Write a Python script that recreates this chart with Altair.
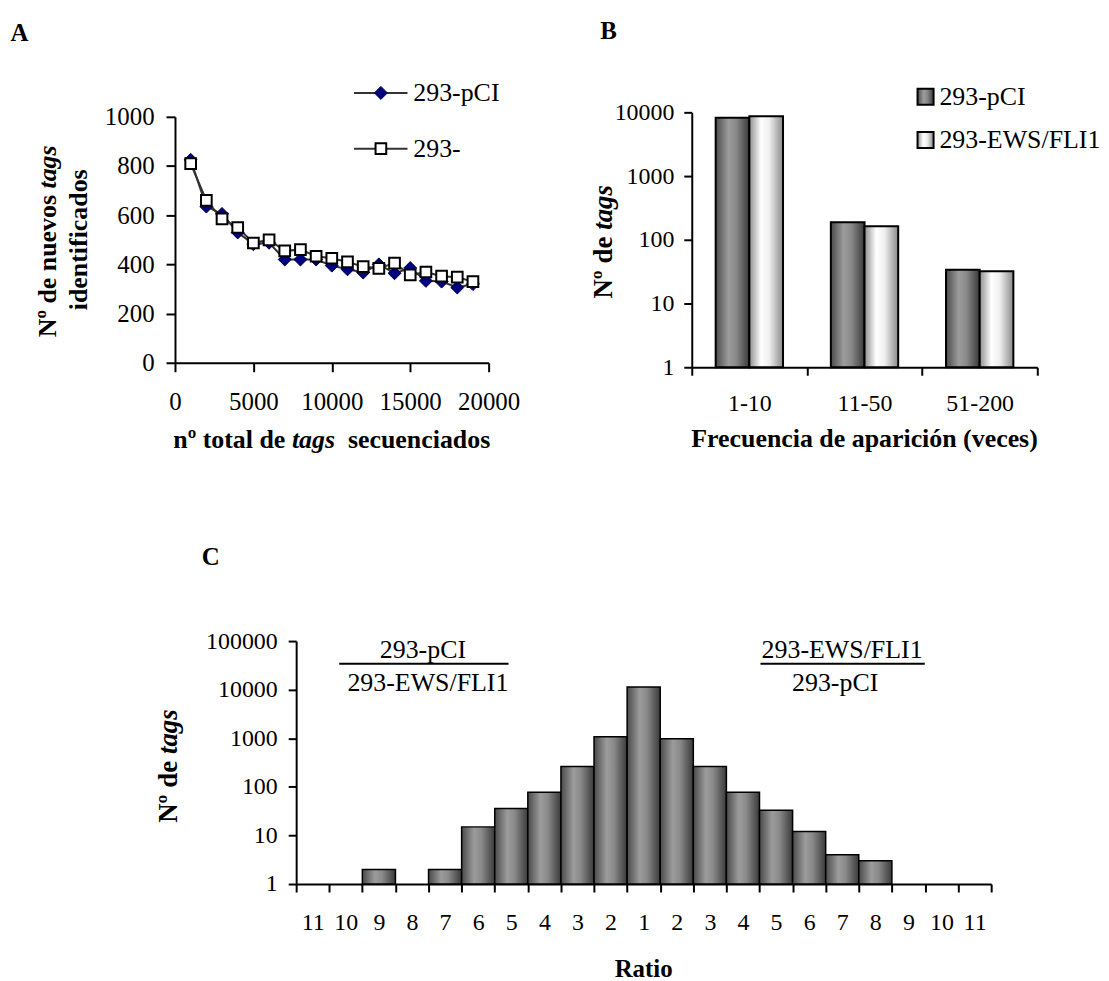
import altair as alt
import pandas as pd

FONT = "Liberation Serif"

# ---------------- Panel A data ----------------
tags_total = [1000, 2000, 3000, 4000, 5000, 6000, 7000, 8000, 9000, 10000,
              11000, 12000, 13000, 14000, 15000, 16000, 17000, 18000, 19000]
nuevos_pci = [825, 635, 605, 530, 482, 488, 420, 420, 420, 395,
              380, 367, 400, 364, 385, 333, 330, 306, 320]
nuevos_ews = [810, 660, 585, 550, 487, 500, 455, 460, 433, 425,
              410, 391, 384, 405, 357, 369, 352, 348, 330]
series_a = ["293-pCI", "293-"]
x_ticks_a = [0, 5000, 10000, 15000, 20000]
y_ticks_a = [0, 200, 400, 600, 800, 1000]

# ---------------- Panel B data ----------------
freq_cats = ["1-10", "11-50", "51-200"]
freq_pci = [8200, 188, 34]
freq_ews = [8700, 163, 32]
series_b = ["293-pCI", "293-EWS/FLI1"]
y_ticks_b = [1, 10, 100, 1000, 10000]

# ---------------- Panel C data ----------------
ratio_labels = ["11", "10", "9", "8", "7", "6", "5", "4", "3", "2", "1",
                "2", "3", "4", "5", "6", "7", "8", "9", "10", "11"]
ratio_counts = [None, None, 2, None, 2, 15, 36, 77, 262, 1078, 11400,
                981, 262, 77, 33, 12, 4, 3, None, None, None]
y_ticks_c = [1, 10, 100, 1000, 10000, 100000]

ratio_codes = [("L" if i < 10 else ("C" if i == 10 else "R")) + lab
               for i, lab in enumerate(ratio_labels)]

# ---------------- helpers ----------------
def ax(**kw):
    base = dict(title=None, grid=False, domainColor="black", domainWidth=2,
                tickColor="black", tickWidth=2, labelColor="black",
                labelFont=FONT, labelFlush=False, labelOverlap=False)
    base.update(kw)
    return alt.Axis(**base)


def txt(s, x, y, size=26, bold=False, italic=False, align="left",
        baseline="alphabetic", angle=None):
    kw = dict(font=FONT, fontSize=size, align=align, baseline=baseline,
              color="black")
    if bold:
        kw["fontWeight"] = "bold"
    if italic:
        kw["fontStyle"] = "italic"
    if angle is not None:
        kw["angle"] = angle
    return alt.Chart(pd.DataFrame({"t": [s]})).mark_text(**kw).encode(
        text="t:N", x=alt.value(x), y=alt.value(y))


def one(s):
    return alt.Chart(pd.DataFrame({"t": [s]}))


def grad(stops):
    return alt.Gradient(gradient="linear", x1=0, x2=1, y1=0, y2=0,
                        stops=[alt.GradientStop(color=c, offset=o) for o, c in stops])


dark_grad = grad([(0, "#4a4a4a"), (0.38, "#9c9c9c"), (0.6, "#8a8a8a"), (1, "#3a3a3a")])
light_grad = grad([(0, "#8e8e8e"), (0.35, "#ffffff"), (0.6, "#eeeeee"), (1, "#8a8a8a")])

# ---------------- Panel A ----------------
dfA = pd.DataFrame({
    "total": tags_total * 2,
    "nuevos": nuevos_pci + nuevos_ews,
    "series": [series_a[0]] * len(tags_total) + [series_a[1]] * len(tags_total),
})

xA = alt.X("total:Q", scale=alt.Scale(domain=[0, 20000], nice=False),
           axis=ax(values=x_ticks_a, format="d", tickSize=9, labelPadding=18,
                   labelFontSize=25))
yA = alt.Y("nuevos:Q", scale=alt.Scale(domain=[0, 1000], nice=False),
           axis=ax(values=y_ticks_a, format="d", tickSize=9, labelPadding=12,
                   labelFontSize=25))

lineA = alt.Chart(dfA).mark_line(color="#333333", strokeWidth=2).encode(
    x=xA, y=yA, detail="series:N")
diamA = alt.Chart(dfA).transform_filter(alt.datum.series == series_a[0]).mark_point(
    shape="diamond", filled=True, fill="#000080", stroke="#000033", strokeWidth=1,
    size=170, opacity=1).encode(x=xA, y=yA)
sqA = alt.Chart(dfA).transform_filter(alt.datum.series == series_a[1]).mark_point(
    shape="square", filled=True, fill="white", stroke="black", strokeWidth=2,
    size=115, opacity=1).encode(x=xA, y=yA)

legA = []
for i, (s, y) in enumerate(zip(series_a, [-24, 32])):
    legA.append(one(s).mark_rule(color="#333333", strokeWidth=2).encode(
        x=alt.value(179.8), x2=alt.value(233.5), y=alt.value(y)))
    if i == 0:
        legA.append(one(s).mark_point(shape="diamond", filled=True, fill="#000080",
                                      stroke="#000033", strokeWidth=1, size=170,
                                      opacity=1).encode(x=alt.value(206.8), y=alt.value(y)))
    else:
        legA.append(one(s).mark_point(shape="square", filled=True, fill="white",
                                      stroke="black", strokeWidth=2, size=115,
                                      opacity=1).encode(x=alt.value(206.8), y=alt.value(y)))
    legA.append(txt(s, 239.3, y, size=26, baseline="middle"))

titlesA = [
    txt("A", -165.3, -76.3, size=25, bold=True),
    txt("Nº de nuevos", -119.6, 221.4, size=26, bold=True, angle=270),
    txt("tags", -119.6, 72.0, size=26, bold=True, italic=True, angle=270),
    txt("identificados", -88.5, 123.5, size=26, bold=True, align="center", angle=270),
    txt("nº total de", -1.7, 333, size=26, bold=True),
    txt("tags", 117.4, 333, size=26, bold=True, italic=True),
    txt("secuenciados", 173.7, 333, size=26, bold=True),
]

panelA = alt.layer(lineA, diamA, sqA, *legA, *titlesA).properties(width=315, height=247)

# ---------------- Panel B ----------------
dfB = pd.DataFrame({
    "cat": freq_cats * 2,
    "value": freq_pci + freq_ews,
    "series": [series_b[0]] * 3 + [series_b[1]] * 3,
})
xB = alt.X("cat:N", sort=freq_cats,
           scale=alt.Scale(domain=freq_cats, paddingInner=0, paddingOuter=0),
           axis=ax(tickBand="extent", labelAngle=0, tickSize=8, labelPadding=16,
                   labelFontSize=24))
xoB = alt.XOffset("series:N", sort=series_b,
                  scale=alt.Scale(domain=series_b, paddingInner=0, paddingOuter=0.71))
yB = alt.Y("value:Q", scale=alt.Scale(type="log", domain=[1, 10000], nice=False),
           axis=ax(values=y_ticks_b, format="d", tickSize=8, labelPadding=10,
                   labelFontSize=24))

barsB = []
for s, g in zip(series_b, [dark_grad, light_grad]):
    barsB.append(alt.Chart(dfB).transform_filter(alt.datum.series == s).mark_bar(
        fill=g, stroke="black", strokeWidth=2).encode(
        x=xB, xOffset=xoB, y=yB, y2=alt.datum(1)))

legB = []
for s, g, y in zip(series_b, [dark_grad, light_grad], [-15.7, 27.7]):
    legB.append(one(s).mark_point(shape="square", filled=True, fill=g, stroke="black",
                                  strokeWidth=2, size=260, opacity=1).encode(
        x=alt.value(234.8), y=alt.value(y)))
    legB.append(txt(s, 248.7, y, size=26, baseline="middle"))

titlesB = [
    txt("B", -92, -73.3, size=25, bold=True),
    txt("Nº de", -80, 187.0, size=27, bold=True, angle=270),
    txt("tags", -80, 118.0, size=27, bold=True, italic=True, angle=270),
    txt("Frecuencia de aparición (veces)", 173.5, 336, size=26, bold=True, align="center"),
]

panelB = alt.layer(*barsB, *legB, *titlesB).properties(width=347, height=256)

# ---------------- Panel C ----------------
dfC = pd.DataFrame({"code": ratio_codes, "count": ratio_counts}).dropna()
xC = alt.X("code:N", sort=ratio_codes,
           scale=alt.Scale(domain=ratio_codes, paddingInner=0, paddingOuter=0),
           axis=ax(tickBand="extent", labelExpr="substring(datum.label, 1)",
                   labelAngle=0, tickSize=8, labelPadding=19, labelFontSize=24))
yC = alt.Y("count:Q", scale=alt.Scale(type="log", domain=[1, 100000], nice=False),
           axis=ax(values=y_ticks_c, format="d", tickSize=8, labelPadding=11,
                   labelFontSize=24))
barsC = alt.Chart(dfC).mark_bar(fill=dark_grad, stroke="black", strokeWidth=1.5).encode(
    x=xC, y=yC, y2=alt.datum(1))

annC = [
    one("l").mark_rule(color="black", strokeWidth=2).encode(
        x=alt.value(43.3), x2=alt.value(213.3), y=alt.value(22.7)),
    one("r").mark_rule(color="black", strokeWidth=2).encode(
        x=alt.value(466.3), x2=alt.value(631.3), y=alt.value(22.7)),
    txt(series_b[0], 127.3, 17, size=26, align="center"),
    txt(series_b[1], 132.3, 50, size=26, align="center"),
    txt(series_b[1], 548.3, 17, size=26, align="center"),
    txt(series_b[0], 541.3, 50, size=26, align="center"),
    txt("C", -94.7, -76, size=25, bold=True),
    txt("Nº de", -119.4, 182.5, size=27, bold=True, angle=270),
    txt("tags", -119.4, 113.5, size=27, bold=True, italic=True, angle=270),
    txt("Ratio", 349, 337, size=25, bold=True, align="center"),
]

panelC = alt.layer(barsC, *annC).properties(width=698, height=244)

spacer = alt.Chart(pd.DataFrame({"v": [0]})).mark_point(opacity=0).encode(
    x=alt.X("v:Q", axis=None), y=alt.Y("v:Q", axis=None)).properties(width=1, height=1)

top = alt.hconcat(panelA, panelB, spacing=204, bounds="flush", center=True)
bottom = alt.hconcat(spacer, panelC, spacing=120.7, bounds="flush")
# nested concat rows count as zero height under flush bounds, so the spacing
# includes the top row's plot height (256)
chart = alt.vconcat(top, bottom, spacing=531, bounds="flush").properties(
    padding={"left": 1.7, "top": 8.7, "right": 0, "bottom": 0}
).configure_view(stroke=None)

chart.save("out.html", embed_options={"renderer": "svg", "actions": False})
